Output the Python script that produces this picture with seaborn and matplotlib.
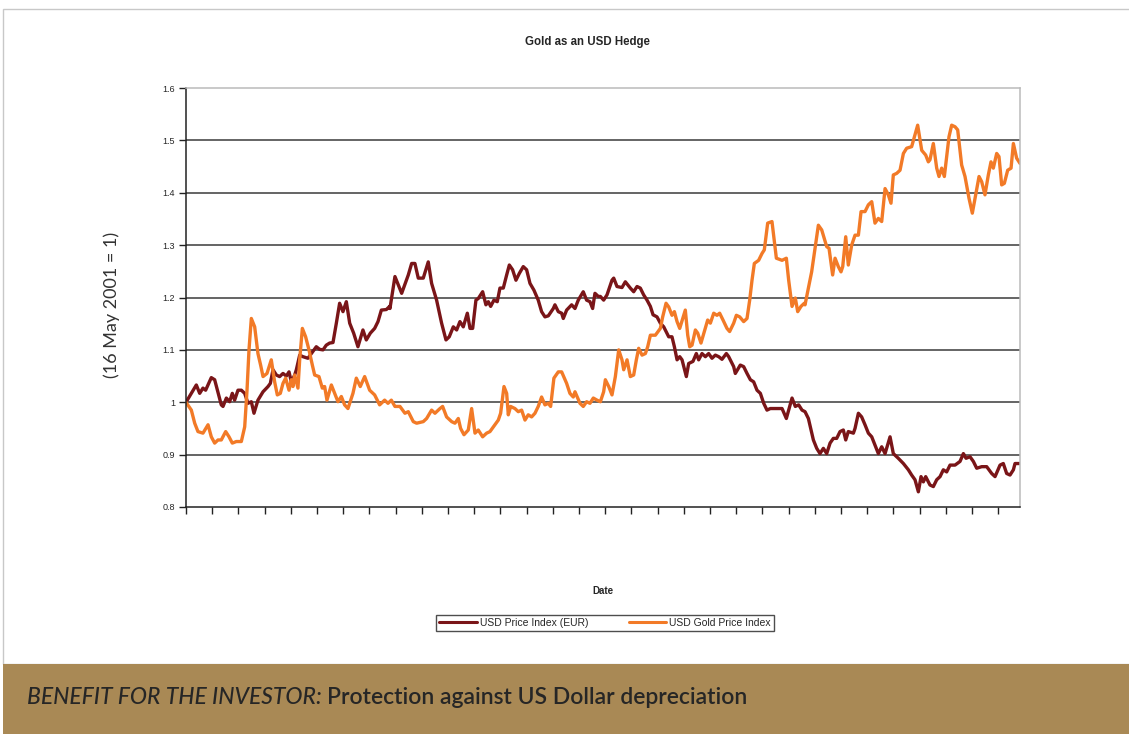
import numpy as np
import pandas as pd
import matplotlib
matplotlib.use("Agg")
import matplotlib.pyplot as plt
from matplotlib.patches import Rectangle
import seaborn as sns

# days since 16 May 2001, index values (16 May 2001 = 1)
usd_days = [0, 12.0, 15.9, 19.7, 22.8, 29.4, 33.3, 41.0, 43.0, 46.9, 50.7, 53.8, 56.5, 60.4, 64.3, 68.2,
            72.0, 75.9, 79.0, 83.6, 89.5, 95.3, 98.0, 101.1, 105.0, 108.8, 112.7, 116.6, 119.7, 122.4,
            126.3, 128.2, 132.1, 135.9, 141.7, 147.5, 151.4, 155.3, 159.2, 163.0, 166.9, 170.8, 174.7,
            178.5, 182.4, 186.3, 190.2, 194.8, 197.9, 199.8, 205.6, 209.5, 214.2, 219.2, 223.1, 227.0,
            232.8, 236.6,
            237.0, 242.8, 250.6, 258.3, 262.2, 266.0, 269.9, 275.7, 281.5, 285.4, 291.2, 297.0, 302.1,
            305.9, 310.6, 314.5, 318.3, 322.2, 326.9, 330.0, 333.1, 336.9, 339.6, 344.7, 348.5, 351.3,
            354.0, 357.8, 361.7, 364.8, 368.7, 372.6, 375.7, 379.5, 383.4, 387.3, 391.9, 395.8, 399.7,
            404.3, 409.3, 413.2, 417.1, 421.0, 426.8, 428.7, 432.6, 436.5, 438.4, 442.3, 448.1, 452.0,
            455.8, 461.6, 465.5, 469.4, 472.5, 475.2, 479.1,
            481.5, 485.3, 489.2, 495.0, 497.0, 500.8, 506.6, 510.5, 516.3, 520.2, 524.1, 527.9, 531.8,
            535.7, 539.6, 542.7, 547.3, 551.2, 555.1, 560.9, 564.7, 567.5, 570.6, 573.7, 576.4, 581.4,
            584.1, 589.1, 593.0, 595.7, 599.6, 603.5, 607.3, 611.2, 615.1, 619.0, 622.8, 627.9, 630.6,
            636.4, 638.3, 644.1, 648.0, 651.9, 655.8, 659.6, 663.5, 667.4, 671.3, 675.1, 679.0, 684.8,
            692.6, 697.6, 704.2, 708.0, 711.9, 715.8,
            719.3, 723.2, 729.0, 732.9, 736.7, 740.6, 744.5, 748.4, 752.2, 756.1, 760.0, 763.8, 766.6,
            769.6, 775.5, 777.4, 781.3, 785.1, 789.0, 792.9, 796.8, 800.6, 804.5, 808.4, 812.3, 818.1,
            821.9, 827.7, 833.6, 839.4, 843.2, 847.1, 851.0, 854.1, 856.8, 859.5, 864.5, 868.4, 872.3,
            876.2, 880.0, 883.9, 887.8, 893.6, 899.4, 903.3, 906.4, 911.0, 914.9, 918.8, 924.6, 930.4,
            936.2, 940.1, 945.9, 949.7, 953.6, 957.5, 961.4, 963.3, 969.1]
usd_index = [1.000, 1.033, 1.017, 1.027, 1.023, 1.047, 1.043, 0.995, 0.992, 1.008, 1.001, 1.017, 1.004,
             1.023, 1.023, 1.017, 0.998, 1.001, 0.979, 1.004, 1.020, 1.030, 1.036, 1.062, 1.052, 1.049,
             1.055, 1.050, 1.058, 1.039, 1.052, 1.062, 1.090, 1.087, 1.084, 1.097, 1.106, 1.101, 1.100,
             1.109, 1.113, 1.114, 1.151, 1.189, 1.173, 1.192, 1.151, 1.132, 1.116, 1.106, 1.138, 1.119,
             1.132, 1.141, 1.154, 1.176, 1.177, 1.183,
             1.179, 1.240, 1.208, 1.243, 1.265, 1.265, 1.237, 1.237, 1.268, 1.227, 1.195, 1.151, 1.119,
             1.125, 1.144, 1.138, 1.154, 1.144, 1.170, 1.141, 1.141, 1.195, 1.198, 1.211, 1.186, 1.192,
             1.183, 1.195, 1.192, 1.218, 1.218, 1.243, 1.262, 1.253, 1.233, 1.246, 1.259, 1.253, 1.227,
             1.214, 1.195, 1.173, 1.163, 1.165, 1.179, 1.186, 1.173, 1.170, 1.160, 1.176, 1.186, 1.179,
             1.195, 1.211, 1.195, 1.192, 1.179, 1.208, 1.202,
             1.202, 1.195, 1.205, 1.233, 1.237, 1.221, 1.219, 1.230, 1.218, 1.211, 1.221, 1.218, 1.205,
             1.195, 1.183, 1.167, 1.163, 1.151, 1.144, 1.125, 1.125, 1.106, 1.081, 1.087, 1.081, 1.049,
             1.074, 1.078, 1.093, 1.081, 1.093, 1.087, 1.093, 1.084, 1.090, 1.087, 1.082, 1.093, 1.087,
             1.068, 1.055, 1.071, 1.068, 1.055, 1.043, 1.039, 1.023, 1.017, 0.998, 0.985, 0.988, 0.988,
             0.988, 0.969, 1.008, 0.992, 0.995, 0.985,
             0.982, 0.969, 0.928, 0.912, 0.902, 0.912, 0.902, 0.922, 0.931, 0.931, 0.944, 0.947, 0.928,
             0.944, 0.941, 0.950, 0.979, 0.972, 0.957, 0.941, 0.934, 0.918, 0.902, 0.915, 0.902, 0.934,
             0.902, 0.893, 0.883, 0.871, 0.861, 0.852, 0.829, 0.858, 0.848, 0.858, 0.842, 0.839, 0.852,
             0.858, 0.871, 0.867, 0.880, 0.880, 0.887, 0.902, 0.893, 0.896, 0.887, 0.874, 0.877, 0.877,
             0.864, 0.858, 0.880, 0.883, 0.864, 0.861, 0.871, 0.883, 0.883]

gold_days = [0, 6.2, 10.1, 13.9, 19.7, 25.6, 29.4, 33.3, 37.2, 41.0, 46.1, 50.0, 53.8, 58.5, 64.3, 68.2,
             70.9, 73.2, 75.9, 79.8, 83.6, 86.7, 89.5, 94.1, 99.1, 103.0, 106.1, 109.6, 112.7, 115.8,
             119.7, 122.4, 124.3, 126.3, 130.1, 132.1, 135.2, 139.0, 142.9, 146.8, 149.5, 154.5, 158.4,
             161.1, 163.8, 168.9, 172.7, 176.6, 180.5, 184.3, 188.2, 194.0, 197.9, 202.5, 207.6, 213.4,
             219.2, 225.0, 230.8, 234.7, 238.6,
             242.8, 248.6, 254.4, 258.3, 264.1, 268.0, 275.7, 279.6, 285.4, 289.3, 295.1, 298.2, 302.8,
             308.7, 312.5, 316.4, 319.1, 323.0, 328.0, 331.9, 335.8, 339.6, 344.7, 349.3, 353.2, 359.0,
             362.9, 365.6, 369.5, 372.6, 374.5, 377.2, 382.2, 386.1, 390.0, 393.9, 397.7, 401.6, 405.5,
             409.3, 413.2, 417.1, 421.0, 423.7, 427.5, 432.6, 436.5, 442.3, 446.1, 450.0, 452.0, 457.8,
             461.6, 465.5, 469.4, 473.3,
             477.6, 481.5, 485.3, 487.3, 491.2, 495.0, 498.9, 502.8, 506.6, 508.6, 512.5, 516.3, 520.2,
             523.3, 526.0, 529.9, 533.8, 536.5, 539.6, 545.4, 551.2, 553.9, 557.8, 560.9, 564.7, 567.5,
             570.6, 573.7, 580.2, 583.0, 585.3, 588.0, 591.9, 594.6, 598.4, 602.3, 606.2, 609.3, 613.2,
             617.0, 620.1, 624.0, 628.6, 631.7, 636.4, 639.5, 643.4, 648.0, 651.9, 655.0, 657.7, 660.4,
             665.4, 669.3, 672.0, 675.9, 680.9, 686.0, 692.6, 697.6, 700.3, 704.2, 708.0, 710.8, 714.6,
             718.5,
             719.3, 727.0, 730.9, 734.8, 738.7, 744.5, 747.2, 751.4, 754.2, 758.0, 761.1, 763.1, 766.6,
             769.6, 773.5, 777.4, 781.3, 784.4, 789.0, 792.9, 796.8, 800.6, 804.5, 808.4, 812.3, 816.1,
             819.2, 821.9, 825.8, 829.7, 833.6, 837.4, 843.2, 850.2, 854.9, 859.5, 862.6, 864.5, 868.4,
             872.3, 875.0, 878.1, 881.2, 886.6, 889.7, 893.6, 896.7, 901.3, 905.2, 909.9, 913.7, 917.6,
             921.5, 924.6, 928.4, 932.3, 935.4, 938.1, 942.0, 944.7, 947.8, 950.9, 954.8, 958.7, 961.4,
             965.2, 969.1]
gold_index = [1.000, 0.985, 0.960, 0.944, 0.941, 0.957, 0.934, 0.922, 0.928, 0.928, 0.944, 0.934, 0.922,
              0.925, 0.925, 0.953, 1.023, 1.100, 1.160, 1.144, 1.093, 1.071, 1.049, 1.055, 1.081, 1.039,
              1.014, 1.017, 1.036, 1.046, 1.023, 1.043, 1.030, 1.052, 1.027, 1.081, 1.141, 1.125, 1.100,
              1.071, 1.052, 1.049, 1.027, 1.030, 1.004, 1.033, 1.017, 1.001, 1.011, 0.995, 0.988, 1.017,
              1.046, 1.030, 1.049, 1.023, 1.014, 0.995, 1.004, 0.998, 1.004,
              0.992, 0.992, 0.979, 0.982, 0.963, 0.960, 0.963, 0.969, 0.985, 0.979, 0.988, 0.992, 0.972,
              0.963, 0.960, 0.969, 0.950, 0.938, 0.947, 0.988, 0.941, 0.947, 0.934, 0.941, 0.944, 0.957,
              0.966, 0.979, 1.030, 1.017, 0.976, 0.992, 0.988, 0.982, 0.985, 0.966, 0.976, 0.972, 0.979,
              0.992, 1.010, 0.995, 0.998, 0.992, 1.046, 1.058, 1.058, 1.036, 1.017, 1.010, 1.020, 0.998,
              0.992, 1.001, 0.998, 1.008,
              1.004, 1.001, 1.020, 1.043, 1.030, 1.014, 1.049, 1.100, 1.081, 1.062, 1.081, 1.049, 1.052,
              1.081, 1.103, 1.090, 1.093, 1.106, 1.128, 1.128, 1.141, 1.163, 1.189, 1.182, 1.166, 1.173,
              1.154, 1.141, 1.176, 1.128, 1.106, 1.109, 1.138, 1.132, 1.113, 1.135, 1.157, 1.151, 1.170,
              1.166, 1.170, 1.157, 1.141, 1.135, 1.151, 1.166, 1.163, 1.154, 1.160, 1.195, 1.233, 1.265,
              1.271, 1.284, 1.291, 1.342, 1.345, 1.275, 1.271, 1.275, 1.233, 1.183, 1.199, 1.173, 1.183,
              1.189,
              1.186, 1.249, 1.294, 1.338, 1.329, 1.297, 1.294, 1.243, 1.275, 1.259, 1.249, 1.259, 1.316,
              1.262, 1.300, 1.319, 1.319, 1.364, 1.364, 1.377, 1.383, 1.342, 1.351, 1.345, 1.408, 1.396,
              1.380, 1.434, 1.437, 1.443, 1.475, 1.485, 1.488, 1.529, 1.481, 1.472, 1.459, 1.463, 1.494,
              1.447, 1.431, 1.447, 1.431, 1.507, 1.529, 1.526, 1.520, 1.453, 1.431, 1.389, 1.361, 1.396,
              1.431, 1.421, 1.396, 1.434, 1.459, 1.447, 1.475, 1.469, 1.415, 1.418, 1.443, 1.447, 1.494,
              1.466, 1.456]

series_names = ["USD Price Index (EUR)", "USD Gold Price Index"]
y_ticks = [0.8, 0.9, 1.0, 1.1, 1.2, 1.3, 1.4, 1.5, 1.6]
y_tick_labels = ["0.8", "0.9", "1", "1.1", "1.2", "1.3", "1.4", "1.5", "1.6"]

maroon = "#7a1518"
orange = "#f27a27"
band = "#a98955"

df = pd.concat([
    pd.DataFrame({"day": usd_days, "index": usd_index, "series": series_names[0]}),
    pd.DataFrame({"day": gold_days, "index": gold_index, "series": series_names[1]}),
])

sns.set_theme(style="white")
plt.rcParams["font.family"] = ["Liberation Sans", "DejaVu Sans"]

fig = plt.figure(figsize=(11.29, 7.34), dpi=100)
ax = fig.add_axes([186 / 1129, 1 - 507 / 734, 834 / 1129, 419 / 734])

sns.lineplot(data=df, x="day", y="index", hue="series", palette=[maroon, orange],
             estimator=None, sort=False, linewidth=2.4, ax=ax, legend=False)

ax.set_xlim(0, 969.1)
ax.set_ylim(0.8, 1.6)
ax.set_yticks(y_ticks)
ax.set_yticklabels(y_tick_labels, fontsize=6.5)
ax.set_xticks(np.arange(32) * 30.44)
ax.set_xticklabels([])
ax.tick_params(axis="both", direction="out", length=5, width=1, color="#222222",
               bottom=True, left=True, pad=3)
for yv in y_ticks[1:-1]:
    ax.axhline(yv, color="#3a3a3a", linewidth=1.1, zorder=0)
ax.set_xlabel("")
ax.set_ylabel("")
ax.spines["left"].set_color("#222222")
ax.spines["bottom"].set_color("#222222")
ax.spines["top"].set_color("#bbbbbb")
ax.spines["right"].set_color("#bbbbbb")
for s in ax.spines.values():
    s.set_linewidth(1.1)

fig.text(587 / 1129, 1 - 42 / 734, "Gold as an USD Hedge", ha="center", va="center",
         fontsize=8.3, fontweight="bold")
fig.text(603 / 1129, 1 - 591 / 734, "Date", ha="center", va="center",
         fontsize=7, fontweight="bold")
fig.text(112 / 1129, 1 - 305 / 734, "(16 May 2001 = 1)", ha="center", va="center",
         rotation=90, fontsize=13, color="#333333", family=["Lato", "DejaVu Sans"])

handles = [plt.Line2D([], [], color=maroon, lw=2.2), plt.Line2D([], [], color=orange, lw=2.2)]
leg = fig.legend(handles, series_names, loc="center", bbox_to_anchor=(605 / 1129, 1 - 623 / 734),
                 ncol=2, fontsize=7.5, frameon=True, fancybox=False, handlelength=3.6,
                 handletextpad=0.3, columnspacing=3.9, borderpad=0.3, borderaxespad=0,
                 edgecolor="#222222")
leg.get_frame().set_linewidth(1.0)

# outer border and bottom band
fig.patches.append(Rectangle((3 / 1129, 70 / 734), 1.2, 1 - 9 / 734 - 70 / 734,
                             transform=fig.transFigure, fill=False, edgecolor="#c8c8c8",
                             linewidth=1.0, figure=fig))
fig.patches.append(Rectangle((3 / 1129, 0), 1.0, 70 / 734, transform=fig.transFigure,
                             facecolor=band, edgecolor="none", figure=fig))

t1 = fig.text(27 / 1129, 1 - 698 / 734, "BENEFIT FOR THE INVESTOR:", ha="left", va="center",
              fontsize=16.5, style="italic", fontweight="medium", color="#262626",
              family=["Lato", "DejaVu Sans"])
renderer = fig.canvas.get_renderer()
bb = t1.get_window_extent(renderer=renderer)
fig.text(bb.x1 / fig.bbox.width + 5 / 1129, 1 - 698 / 734,
         "Protection against US Dollar depreciation", ha="left", va="center",
         fontsize=16.5, fontweight="semibold", color="#262626", family=["Lato", "DejaVu Sans"])

fig.savefig("out.png", dpi=100)
